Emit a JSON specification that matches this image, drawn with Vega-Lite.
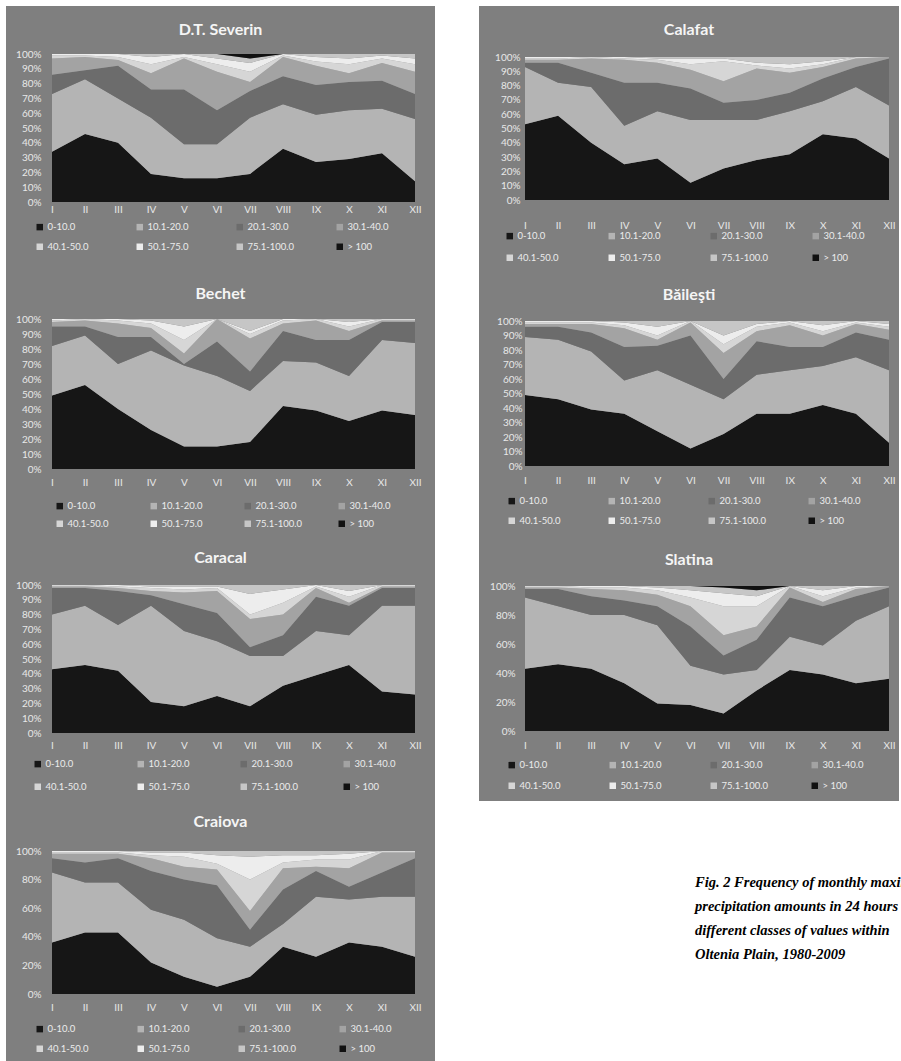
{
"$schema": "https://vega.github.io/schema/vega-lite/v6.json",
"background": "white",
"padding": {"left": 6, "top": 6, "right": 0, "bottom": 0},
"datasets": {
"classes": [
{"k":"k1","cls":"0-10.0","o":1},{"k":"k2","cls":"10.1-20.0","o":2},{"k":"k3","cls":"20.1-30.0","o":3},{"k":"k4","cls":"30.1-40.0","o":4},
{"k":"k5","cls":"40.1-50.0","o":5},{"k":"k6","cls":"50.1-75.0","o":6},{"k":"k7","cls":"75.1-100.0","o":7},{"k":"k8","cls":"> 100","o":8}],
"freq": [
{"s":"D.T. Severin","m":"I","k1":34,"k2":39,"k3":13,"k4":11,"k5":2,"k6":1,"k7":0,"k8":0},
{"s":"D.T. Severin","m":"II","k1":46,"k2":37,"k3":6,"k4":9,"k5":1,"k6":1,"k7":0,"k8":0},
{"s":"D.T. Severin","m":"III","k1":40,"k2":30,"k3":22,"k4":4,"k5":2,"k6":2,"k7":0,"k8":0},
{"s":"D.T. Severin","m":"IV","k1":19,"k2":38,"k3":19,"k4":11,"k5":6,"k6":5,"k7":2,"k8":0},
{"s":"D.T. Severin","m":"V","k1":16,"k2":23,"k3":37,"k4":21,"k5":1,"k6":2,"k7":0,"k8":0},
{"s":"D.T. Severin","m":"VI","k1":16,"k2":23,"k3":23,"k4":26,"k5":5,"k6":4,"k7":3,"k8":0},
{"s":"D.T. Severin","m":"VII","k1":19,"k2":38,"k3":18,"k4":6,"k5":7,"k6":6,"k7":3,"k8":3},
{"s":"D.T. Severin","m":"VIII","k1":36,"k2":30,"k3":19,"k4":13,"k5":1,"k6":1,"k7":0,"k8":0},
{"s":"D.T. Severin","m":"IX","k1":27,"k2":32,"k3":20,"k4":13,"k5":3,"k6":3,"k7":2,"k8":0},
{"s":"D.T. Severin","m":"X","k1":29,"k2":33,"k3":19,"k4":6,"k5":6,"k6":4,"k7":3,"k8":0},
{"s":"D.T. Severin","m":"XI","k1":33,"k2":30,"k3":19,"k4":12,"k5":3,"k6":2,"k7":1,"k8":0},
{"s":"D.T. Severin","m":"XII","k1":14,"k2":42,"k3":17,"k4":15,"k5":5,"k6":4,"k7":3,"k8":0},
{"s":"Calafat","m":"I","k1":53,"k2":40,"k3":3,"k4":2,"k5":1,"k6":1,"k7":0,"k8":0},
{"s":"Calafat","m":"II","k1":59,"k2":23,"k3":14,"k4":2,"k5":1,"k6":1,"k7":0,"k8":0},
{"s":"Calafat","m":"III","k1":40,"k2":39,"k3":10,"k4":10,"k5":1,"k6":0,"k7":0,"k8":0},
{"s":"Calafat","m":"IV","k1":25,"k2":27,"k3":30,"k4":16,"k5":1,"k6":1,"k7":0,"k8":0},
{"s":"Calafat","m":"V","k1":29,"k2":33,"k3":20,"k4":14,"k5":2,"k6":1,"k7":1,"k8":0},
{"s":"Calafat","m":"VI","k1":12,"k2":44,"k3":22,"k4":13,"k5":4,"k6":4,"k7":1,"k8":0},
{"s":"Calafat","m":"VII","k1":22,"k2":34,"k3":12,"k4":15,"k5":14,"k6":2,"k7":1,"k8":0},
{"s":"Calafat","m":"VIII","k1":28,"k2":28,"k3":14,"k4":22,"k5":2,"k6":2,"k7":4,"k8":0},
{"s":"Calafat","m":"IX","k1":32,"k2":30,"k3":13,"k4":14,"k5":3,"k6":3,"k7":5,"k8":0},
{"s":"Calafat","m":"X","k1":46,"k2":23,"k3":16,"k4":8,"k5":2,"k6":2,"k7":3,"k8":0},
{"s":"Calafat","m":"XI","k1":43,"k2":36,"k3":14,"k4":6,"k5":1,"k6":0,"k7":0,"k8":0},
{"s":"Calafat","m":"XII","k1":29,"k2":37,"k3":33,"k4":1,"k5":0,"k6":0,"k7":0,"k8":0},
{"s":"Bechet","m":"I","k1":49,"k2":33,"k3":13,"k4":3,"k5":1,"k6":1,"k7":0,"k8":0},
{"s":"Bechet","m":"II","k1":56,"k2":33,"k3":6,"k4":4,"k5":1,"k6":0,"k7":0,"k8":0},
{"s":"Bechet","m":"III","k1":40,"k2":30,"k3":18,"k4":9,"k5":2,"k6":1,"k7":0,"k8":0},
{"s":"Bechet","m":"IV","k1":26,"k2":53,"k3":9,"k4":6,"k5":3,"k6":2,"k7":1,"k8":0},
{"s":"Bechet","m":"V","k1":15,"k2":54,"k3":1,"k4":7,"k5":9,"k6":9,"k7":5,"k8":0},
{"s":"Bechet","m":"VI","k1":15,"k2":47,"k3":23,"k4":15,"k5":0,"k6":0,"k7":0,"k8":0},
{"s":"Bechet","m":"VII","k1":18,"k2":34,"k3":13,"k4":22,"k5":3,"k6":2,"k7":8,"k8":0},
{"s":"Bechet","m":"VIII","k1":42,"k2":30,"k3":20,"k4":5,"k5":2,"k6":1,"k7":0,"k8":0},
{"s":"Bechet","m":"IX","k1":39,"k2":32,"k3":15,"k4":13,"k5":1,"k6":0,"k7":0,"k8":0},
{"s":"Bechet","m":"X","k1":32,"k2":30,"k3":24,"k4":6,"k5":3,"k6":3,"k7":2,"k8":0},
{"s":"Bechet","m":"XI","k1":39,"k2":47,"k3":12,"k4":1,"k5":1,"k6":0,"k7":0,"k8":0},
{"s":"Bechet","m":"XII","k1":36,"k2":48,"k3":14,"k4":1,"k5":1,"k6":0,"k7":0,"k8":0},
{"s":"Băileşti","m":"I","k1":49,"k2":40,"k3":7,"k4":2,"k5":1,"k6":1,"k7":0,"k8":0},
{"s":"Băileşti","m":"II","k1":46,"k2":41,"k3":9,"k4":2,"k5":1,"k6":1,"k7":0,"k8":0},
{"s":"Băileşti","m":"III","k1":39,"k2":40,"k3":13,"k4":6,"k5":1,"k6":1,"k7":0,"k8":0},
{"s":"Băileşti","m":"IV","k1":36,"k2":23,"k3":23,"k4":13,"k5":2,"k6":2,"k7":1,"k8":0},
{"s":"Băileşti","m":"V","k1":24,"k2":42,"k3":17,"k4":4,"k5":3,"k6":6,"k7":4,"k8":0},
{"s":"Băileşti","m":"VI","k1":12,"k2":44,"k3":34,"k4":9,"k5":1,"k6":0,"k7":0,"k8":0},
{"s":"Băileşti","m":"VII","k1":22,"k2":24,"k3":14,"k4":18,"k5":6,"k6":6,"k7":10,"k8":0},
{"s":"Băileşti","m":"VIII","k1":36,"k2":27,"k3":23,"k4":7,"k5":3,"k6":2,"k7":2,"k8":0},
{"s":"Băileşti","m":"IX","k1":36,"k2":30,"k3":16,"k4":15,"k5":2,"k6":1,"k7":0,"k8":0},
{"s":"Băileşti","m":"X","k1":42,"k2":27,"k3":13,"k4":8,"k5":3,"k6":4,"k7":3,"k8":0},
{"s":"Băileşti","m":"XI","k1":36,"k2":39,"k3":17,"k4":6,"k5":1,"k6":1,"k7":0,"k8":0},
{"s":"Băileşti","m":"XII","k1":16,"k2":50,"k3":21,"k4":7,"k5":2,"k6":2,"k7":2,"k8":0},
{"s":"Caracal","m":"I","k1":43,"k2":37,"k3":18,"k4":1,"k5":1,"k6":0,"k7":0,"k8":0},
{"s":"Caracal","m":"II","k1":46,"k2":40,"k3":12,"k4":1,"k5":1,"k6":0,"k7":0,"k8":0},
{"s":"Caracal","m":"III","k1":42,"k2":31,"k3":23,"k4":2,"k5":1,"k6":1,"k7":0,"k8":0},
{"s":"Caracal","m":"IV","k1":21,"k2":65,"k3":7,"k4":3,"k5":2,"k6":1,"k7":1,"k8":0},
{"s":"Caracal","m":"V","k1":18,"k2":51,"k3":18,"k4":8,"k5":2,"k6":2,"k7":1,"k8":0},
{"s":"Caracal","m":"VI","k1":25,"k2":37,"k3":19,"k4":15,"k5":2,"k6":1,"k7":1,"k8":0},
{"s":"Caracal","m":"VII","k1":18,"k2":34,"k3":6,"k4":19,"k5":3,"k6":14,"k7":6,"k8":0},
{"s":"Caracal","m":"VIII","k1":32,"k2":20,"k3":14,"k4":14,"k5":8,"k6":9,"k7":3,"k8":0},
{"s":"Caracal","m":"IX","k1":39,"k2":30,"k3":23,"k4":6,"k5":1,"k6":1,"k7":0,"k8":0},
{"s":"Caracal","m":"X","k1":46,"k2":20,"k3":20,"k4":2,"k5":4,"k6":4,"k7":4,"k8":0},
{"s":"Caracal","m":"XI","k1":28,"k2":58,"k3":12,"k4":1,"k5":1,"k6":0,"k7":0,"k8":0},
{"s":"Caracal","m":"XII","k1":26,"k2":60,"k3":12,"k4":1,"k5":1,"k6":0,"k7":0,"k8":0},
{"s":"Slatina","m":"I","k1":43,"k2":49,"k3":6,"k4":1,"k5":1,"k6":0,"k7":0,"k8":0},
{"s":"Slatina","m":"II","k1":46,"k2":40,"k3":12,"k4":1,"k5":1,"k6":0,"k7":0,"k8":0},
{"s":"Slatina","m":"III","k1":43,"k2":37,"k3":13,"k4":5,"k5":1,"k6":1,"k7":0,"k8":0},
{"s":"Slatina","m":"IV","k1":33,"k2":47,"k3":10,"k4":7,"k5":2,"k6":1,"k7":0,"k8":0},
{"s":"Slatina","m":"V","k1":19,"k2":54,"k3":13,"k4":8,"k5":3,"k6":2,"k7":1,"k8":0},
{"s":"Slatina","m":"VI","k1":18,"k2":27,"k3":27,"k4":14,"k5":6,"k6":5,"k7":3,"k8":0},
{"s":"Slatina","m":"VII","k1":12,"k2":27,"k3":13,"k4":14,"k5":20,"k6":9,"k7":4,"k8":1},
{"s":"Slatina","m":"VIII","k1":28,"k2":14,"k3":21,"k4":9,"k5":14,"k6":7,"k7":4,"k8":3},
{"s":"Slatina","m":"IX","k1":42,"k2":23,"k3":27,"k4":7,"k5":1,"k6":0,"k7":0,"k8":0},
{"s":"Slatina","m":"X","k1":39,"k2":20,"k3":27,"k4":3,"k5":4,"k6":4,"k7":3,"k8":0},
{"s":"Slatina","m":"XI","k1":33,"k2":43,"k3":17,"k4":5,"k5":1,"k6":1,"k7":0,"k8":0},
{"s":"Slatina","m":"XII","k1":36,"k2":50,"k3":13,"k4":1,"k5":0,"k6":0,"k7":0,"k8":0},
{"s":"Craiova","m":"I","k1":36,"k2":49,"k3":10,"k4":3,"k5":1,"k6":1,"k7":0,"k8":0},
{"s":"Craiova","m":"II","k1":43,"k2":35,"k3":14,"k4":6,"k5":1,"k6":1,"k7":0,"k8":0},
{"s":"Craiova","m":"III","k1":43,"k2":35,"k3":17,"k4":3,"k5":1,"k6":1,"k7":0,"k8":0},
{"s":"Craiova","m":"IV","k1":22,"k2":37,"k3":27,"k4":9,"k5":2,"k6":2,"k7":1,"k8":0},
{"s":"Craiova","m":"V","k1":12,"k2":40,"k3":28,"k4":9,"k5":7,"k6":3,"k7":1,"k8":0},
{"s":"Craiova","m":"VI","k1":5,"k2":34,"k3":37,"k4":11,"k5":4,"k6":6,"k7":3,"k8":0},
{"s":"Craiova","m":"VII","k1":12,"k2":21,"k3":12,"k4":13,"k5":22,"k6":16,"k7":4,"k8":0},
{"s":"Craiova","m":"VIII","k1":33,"k2":16,"k3":24,"k4":15,"k5":4,"k6":5,"k7":3,"k8":0},
{"s":"Craiova","m":"IX","k1":26,"k2":42,"k3":18,"k4":3,"k5":5,"k6":3,"k7":3,"k8":0},
{"s":"Craiova","m":"X","k1":36,"k2":30,"k3":9,"k4":13,"k5":6,"k6":4,"k7":2,"k8":0},
{"s":"Craiova","m":"XI","k1":33,"k2":35,"k3":17,"k4":14,"k5":1,"k6":0,"k7":0,"k8":0},
{"s":"Craiova","m":"XII","k1":26,"k2":42,"k3":27,"k4":4,"k5":1,"k6":0,"k7":0,"k8":0}
]},
"data": {"name": "freq"},
"spacing": 44,
"resolve": {"scale": {"x": "independent", "y": "independent", "color": "independent"}, "axis": {"x": "independent", "y": "independent"}, "legend": {"color": "independent"}},
"hconcat": [
{"vconcat": [
{"width": 429, "height": 264, "title": "D.T. Severin",
 "transform": [{"filter": "datum.s === 'D.T. Severin'"}, {"fold": ["k1","k2","k3","k4","k5","k6","k7","k8"], "as": ["k","v"]}, {"lookup": "k", "from": {"data": {"name": "classes"}, "key": "k", "fields": ["cls","o"]}}],
 "mark": {"type": "area"},
 "encoding": {
  "x": {"field": "m", "type": "ordinal", "title": null, "sort": ["I","II","III","IV","V","VI","VII","VIII","IX","X","XI","XII"], "scale": {"type": "point", "padding": 0, "range": [46, 409]}, "axis": {"offset": -66}},
  "y": {"field": "v", "type": "quantitative", "stack": "normalize", "title": null, "scale": {"range": [196, 48]}, "axis": {"values": [0,0.1,0.2,0.3,0.4,0.5,0.6,0.7,0.8,0.9,1], "offset": -38}},
  "color": {"field": "cls", "type": "nominal", "scale": {"domain": ["0-10.0","10.1-20.0","20.1-30.0","30.1-40.0","40.1-50.0","50.1-75.0","75.1-100.0","> 100"], "range": ["#161616","#b4b4b4","#6c6c6c","#a3a3a3","#d6d6d6","#ededed","#c6c6c6","#111111"]}, "legend": {"title": null, "legendX": 29, "legendY": 216, "columnPadding": 40}},
  "order": {"field": "o", "type": "quantitative"}}},
{"width": 429, "height": 264, "title": "Bechet",
 "transform": [{"filter": "datum.s === 'Bechet'"}, {"fold": ["k1","k2","k3","k4","k5","k6","k7","k8"], "as": ["k","v"]}, {"lookup": "k", "from": {"data": {"name": "classes"}, "key": "k", "fields": ["cls","o"]}}],
 "mark": {"type": "area"},
 "encoding": {
  "x": {"field": "m", "type": "ordinal", "title": null, "sort": ["I","II","III","IV","V","VI","VII","VIII","IX","X","XI","XII"], "scale": {"type": "point", "padding": 0, "range": [46, 409]}, "axis": {"offset": -57}},
  "y": {"field": "v", "type": "quantitative", "stack": "normalize", "title": null, "scale": {"range": [199, 49]}, "axis": {"values": [0,0.1,0.2,0.3,0.4,0.5,0.6,0.7,0.8,0.9,1], "offset": -38}},
  "color": {"field": "cls", "type": "nominal", "scale": {"domain": ["0-10.0","10.1-20.0","20.1-30.0","30.1-40.0","40.1-50.0","50.1-75.0","75.1-100.0","> 100"], "range": ["#161616","#b4b4b4","#6c6c6c","#a3a3a3","#d6d6d6","#ededed","#c6c6c6","#111111"]}, "legend": {"title": null, "legendX": 49, "legendY": 231, "columnPadding": 34, "rowPadding": 7}},
  "order": {"field": "o", "type": "quantitative"}}},
{"width": 429, "height": 264, "title": "Caracal",
 "transform": [{"filter": "datum.s === 'Caracal'"}, {"fold": ["k1","k2","k3","k4","k5","k6","k7","k8"], "as": ["k","v"]}, {"lookup": "k", "from": {"data": {"name": "classes"}, "key": "k", "fields": ["cls","o"]}}],
 "mark": {"type": "area"},
 "encoding": {
  "x": {"field": "m", "type": "ordinal", "title": null, "sort": ["I","II","III","IV","V","VI","VII","VIII","IX","X","XI","XII"], "scale": {"type": "point", "padding": 0, "range": [46, 409]}, "axis": {"offset": -58}},
  "y": {"field": "v", "type": "quantitative", "stack": "normalize", "title": null, "scale": {"range": [199, 51]}, "axis": {"values": [0,0.1,0.2,0.3,0.4,0.5,0.6,0.7,0.8,0.9,1], "offset": -38}},
  "color": {"field": "cls", "type": "nominal", "scale": {"domain": ["0-10.0","10.1-20.0","20.1-30.0","30.1-40.0","40.1-50.0","50.1-75.0","75.1-100.0","> 100"], "range": ["#161616","#b4b4b4","#6c6c6c","#a3a3a3","#d6d6d6","#ededed","#c6c6c6","#111111"]}, "legend": {"title": null, "legendX": 27, "legendY": 225, "columnPadding": 43, "rowPadding": 12}},
  "order": {"field": "o", "type": "quantitative"}}},
{"width": 429, "height": 264, "title": "Craiova",
 "transform": [{"filter": "datum.s === 'Craiova'"}, {"fold": ["k1","k2","k3","k4","k5","k6","k7","k8"], "as": ["k","v"]}, {"lookup": "k", "from": {"data": {"name": "classes"}, "key": "k", "fields": ["cls","o"]}}],
 "mark": {"type": "area"},
 "encoding": {
  "x": {"field": "m", "type": "ordinal", "title": null, "sort": ["I","II","III","IV","V","VI","VII","VIII","IX","X","XI","XII"], "scale": {"type": "point", "padding": 0, "range": [46, 409]}, "axis": {"offset": -60}},
  "y": {"field": "v", "type": "quantitative", "stack": "normalize", "title": null, "scale": {"range": [196, 53]}, "axis": {"values": [0,0.2,0.4,0.6,0.8,1], "offset": -38}},
  "color": {"field": "cls", "type": "nominal", "scale": {"domain": ["0-10.0","10.1-20.0","20.1-30.0","30.1-40.0","40.1-50.0","50.1-75.0","75.1-100.0","> 100"], "range": ["#161616","#b4b4b4","#6c6c6c","#a3a3a3","#d6d6d6","#ededed","#c6c6c6","#111111"]}, "legend": {"title": null, "legendX": 29, "legendY": 226, "columnPadding": 41}},
  "order": {"field": "o", "type": "quantitative"}}}
], "spacing": 0,
 "resolve": {"scale": {"x": "independent", "y": "independent", "color": "independent"}, "axis": {"x": "independent", "y": "independent"}, "legend": {"color": "independent"}}},
{"vconcat": [
 {"vconcat": [
{"width": 420, "height": 265, "title": "Calafat",
 "transform": [{"filter": "datum.s === 'Calafat'"}, {"fold": ["k1","k2","k3","k4","k5","k6","k7","k8"], "as": ["k","v"]}, {"lookup": "k", "from": {"data": {"name": "classes"}, "key": "k", "fields": ["cls","o"]}}],
 "mark": {"type": "area"},
 "encoding": {
  "x": {"field": "m", "type": "ordinal", "title": null, "sort": ["I","II","III","IV","V","VI","VII","VIII","IX","X","XI","XII"], "scale": {"type": "point", "padding": 0, "range": [46, 410]}, "axis": {"offset": -51}},
  "y": {"field": "v", "type": "quantitative", "stack": "normalize", "title": null, "scale": {"range": [194, 51]}, "axis": {"values": [0,0.1,0.2,0.3,0.4,0.5,0.6,0.7,0.8,0.9,1], "offset": -44}},
  "color": {"field": "cls", "type": "nominal", "scale": {"domain": ["0-10.0","10.1-20.0","20.1-30.0","30.1-40.0","40.1-50.0","50.1-75.0","75.1-100.0","> 100"], "range": ["#161616","#b4b4b4","#6c6c6c","#a3a3a3","#d6d6d6","#ededed","#c6c6c6","#111111"]}, "legend": {"title": null, "legendX": 26, "legendY": 225, "columnPadding": 42, "rowPadding": 11}},
  "order": {"field": "o", "type": "quantitative"}}},
{"width": 420, "height": 265, "title": "Băileşti",
 "transform": [{"filter": "datum.s === 'Băileşti'"}, {"fold": ["k1","k2","k3","k4","k5","k6","k7","k8"], "as": ["k","v"]}, {"lookup": "k", "from": {"data": {"name": "classes"}, "key": "k", "fields": ["cls","o"]}}],
 "mark": {"type": "area"},
 "encoding": {
  "x": {"field": "m", "type": "ordinal", "title": null, "sort": ["I","II","III","IV","V","VI","VII","VIII","IX","X","XI","XII"], "scale": {"type": "point", "padding": 0, "range": [46, 410]}, "axis": {"offset": -61}},
  "y": {"field": "v", "type": "quantitative", "stack": "normalize", "title": null, "scale": {"range": [195, 50]}, "axis": {"values": [0,0.1,0.2,0.3,0.4,0.5,0.6,0.7,0.8,0.9,1], "offset": -46}},
  "color": {"field": "cls", "type": "nominal", "scale": {"domain": ["0-10.0","10.1-20.0","20.1-30.0","30.1-40.0","40.1-50.0","50.1-75.0","75.1-100.0","> 100"], "range": ["#161616","#b4b4b4","#6c6c6c","#a3a3a3","#d6d6d6","#ededed","#c6c6c6","#111111"]}, "legend": {"title": null, "legendX": 28, "legendY": 225, "columnPadding": 40}},
  "order": {"field": "o", "type": "quantitative"}}},
{"width": 420, "height": 265, "title": "Slatina",
 "transform": [{"filter": "datum.s === 'Slatina'"}, {"fold": ["k1","k2","k3","k4","k5","k6","k7","k8"], "as": ["k","v"]}, {"lookup": "k", "from": {"data": {"name": "classes"}, "key": "k", "fields": ["cls","o"]}}],
 "mark": {"type": "area"},
 "encoding": {
  "x": {"field": "m", "type": "ordinal", "title": null, "sort": ["I","II","III","IV","V","VI","VII","VIII","IX","X","XI","XII"], "scale": {"type": "point", "padding": 0, "range": [46, 410]}, "axis": {"offset": -61}},
  "y": {"field": "v", "type": "quantitative", "stack": "normalize", "title": null, "scale": {"range": [195, 50]}, "axis": {"values": [0,0.2,0.4,0.6,0.8,1], "offset": -39}},
  "color": {"field": "cls", "type": "nominal", "scale": {"domain": ["0-10.0","10.1-20.0","20.1-30.0","30.1-40.0","40.1-50.0","50.1-75.0","75.1-100.0","> 100"], "range": ["#161616","#b4b4b4","#6c6c6c","#a3a3a3","#d6d6d6","#ededed","#c6c6c6","#111111"]}, "legend": {"title": null, "legendX": 28, "legendY": 224, "columnPadding": 41, "rowPadding": 10}},
  "order": {"field": "o", "type": "quantitative"}}}
 ], "spacing": 0,
 "resolve": {"scale": {"x": "independent", "y": "independent", "color": "independent"}, "axis": {"x": "independent", "y": "independent"}, "legend": {"color": "independent"}}},
 {"width": 422, "height": 96,
  "view": {"fill": null, "stroke": null},
  "data": {"values": [
   {"line": 1, "t": "Fig. 2 Frequency of monthly maximum"},
   {"line": 2, "t": "precipitation amounts in 24 hours on"},
   {"line": 3, "t": "different classes of values within"},
   {"line": 4, "t": "Oltenia Plain, 1980-2009"}]},
  "mark": {"type": "text", "align": "left", "baseline": "middle", "font": "Liberation Serif", "fontSize": 14.5, "fontWeight": "bold", "fontStyle": "italic", "color": "black", "clip": true},
  "encoding": {
   "y": {"field": "line", "type": "ordinal", "axis": null, "scale": {"type": "point", "padding": 0.5}},
   "x": {"value": 216},
   "text": {"field": "t"}}}
], "spacing": 70,
 "resolve": {"scale": {"x": "independent", "y": "independent", "color": "independent"}, "axis": {"x": "independent", "y": "independent"}, "legend": {"color": "independent"}}}
],
"config": {
 "view": {"fill": "#7f7f7f", "stroke": null},
 "axis": {"domain": false, "ticks": false, "grid": false, "labelColor": "#e8e8e8", "labelFont": "Lato", "labelFontSize": 10},
 "axisX": {"labelAngle": 0, "labelPadding": 0},
 "axisY": {"labelPadding": 3, "format": ".0%"},
 "title": {"color": "#f5f5f5", "font": "Lato", "fontSize": 16, "fontWeight": "bold", "anchor": "middle", "offset": -32, "baseline": "alphabetic", "frame": "group"},
 "legend": {"orient": "none", "columns": 4, "direction": "horizontal", "symbolType": "square", "symbolSize": 42, "symbolStrokeWidth": 0, "labelFont": "Lato", "labelFontSize": 9.5, "labelColor": "#ececec", "gridAlign": "all", "columnPadding": 40, "rowPadding": 9, "labelOffset": 3, "padding": 0}
}
}
